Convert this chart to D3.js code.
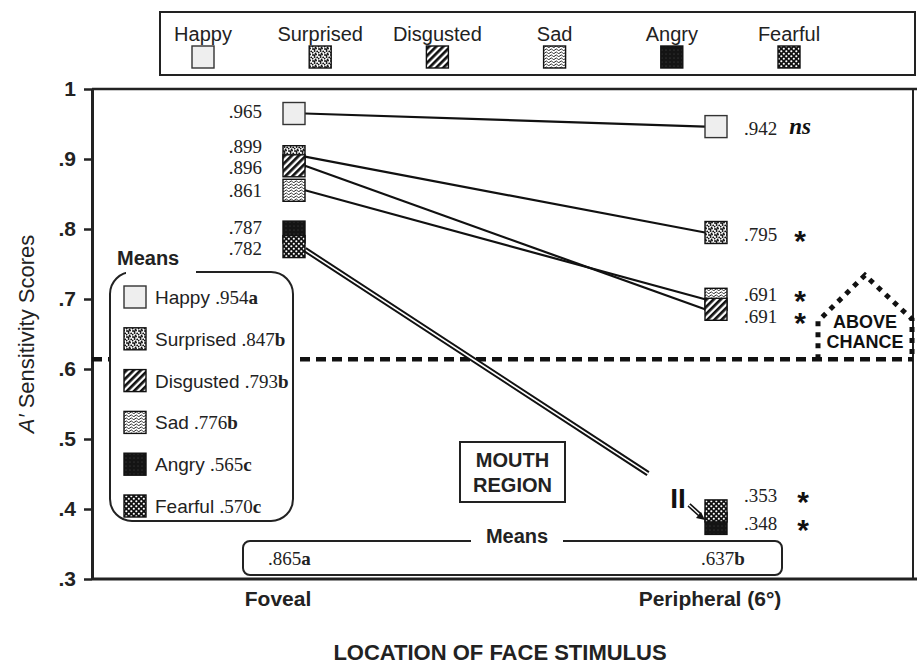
<!DOCTYPE html>
<html>
<head>
<meta charset="utf-8">
<script src="https://cdn.jsdelivr.net/npm/d3@7/dist/d3.min.js"></script>
<style>
  body { margin: 0; background: #fff; }
  svg { display: block; }
  .sans { font-family: "Liberation Sans", Arial, sans-serif; }
  .serif { font-family: "Liberation Serif", "Times New Roman", serif; }
</style>
</head>
<body>
<svg id="chart" width="919" height="664"></svg>
<script>
// data
const emotions = ["Happy", "Surprised", "Disgusted", "Sad", "Angry", "Fearful"];
const locations = ["Foveal", "Peripheral (6°)"];
const fovealScores = [0.965, 0.899, 0.896, 0.861, 0.787, 0.782];
const peripheralScores = [0.942, 0.795, 0.691, 0.691, 0.348, 0.353];
const significance = ["ns", "*", "*", "*", "*", "*"];
const emotionMeans = [0.954, 0.847, 0.793, 0.776, 0.565, 0.570];
const emotionGroups = ["a", "b", "b", "b", "c", "c"];
const locationMeans = [0.865, 0.637];
const locationGroups = ["a", "b"];
const yTicks = [1, 0.9, 0.8, 0.7, 0.6, 0.5, 0.4, 0.3];
const chanceLevel = 0.614;

const svg = d3.select("#chart");
const fmt = d => d3.format(".3f")(d).replace(/^0/, "");

// scales
const y = d3.scaleLinear().domain([0.3, 1]).range([579, 89]);
const x = d3.scalePoint().domain(locations).range([294, 716]);
const legendX = d3.scalePoint().domain(emotions).range([203, 789]);

const plotLeft = 92, plotRight = 913;
const box = 22; // marker size

// overlapping markers are stacked a little in the original, and the
// peripheral angry/fearful pair sits below an axis break
const markerNudge = {
  Foveal: { Surprised: -3, Disgusted: 4, Sad: 4, Angry: -6, Fearful: 5 },
  "Peripheral (6°)": { Happy: -3, Sad: -6, Disgusted: 4, Fearful: -31, Angry: -22 }
};
const labelNudge = {
  Foveal: { Happy: -3, Surprised: -14, Disgusted: 5, Sad: 4, Angry: -11, Fearful: 6 },
  "Peripheral (6°)": { Happy: -2, Surprised: 1, Sad: -11, Disgusted: 11, Fearful: -47, Angry: -22 }
};
const drawOrder = {
  Foveal: ["Happy", "Surprised", "Disgusted", "Sad", "Angry", "Fearful"],
  "Peripheral (6°)": ["Happy", "Surprised", "Sad", "Disgusted", "Angry", "Fearful"]
};

function score(loc, e) {
  const i = emotions.indexOf(e);
  return loc === locations[0] ? fovealScores[i] : peripheralScores[i];
}
function markerY(loc, e) {
  return y(score(loc, e)) + (markerNudge[loc][e] || 0);
}

// patterns
const defs = svg.append("defs");
function pattern(id, w, h, transform) {
  const p = defs.append("pattern")
    .attr("id", id)
    .attr("patternUnits", "userSpaceOnUse")
    .attr("width", w)
    .attr("height", h);
  if (transform) p.attr("patternTransform", transform);
  return p;
}
let p = pattern("p-surprised", 6, 6);
p.append("rect").attr("width", 6).attr("height", 6).attr("fill", "#fff");
[[1, 1], [4, 0.6], [2.6, 3], [5.2, 3.4], [0.6, 4.6], [3.6, 5.4], [2.4, 1.2]].forEach(c =>
  p.append("circle").attr("cx", c[0]).attr("cy", c[1]).attr("r", 0.95).attr("fill", "#111"));
p = pattern("p-disgusted", 5, 5, "rotate(45)");
p.append("rect").attr("width", 5).attr("height", 5).attr("fill", "#fff");
p.append("rect").attr("width", 2.7).attr("height", 5).attr("fill", "#111");
p = pattern("p-sad", 5, 3);
p.append("rect").attr("width", 5).attr("height", 3).attr("fill", "#fff");
p.append("path").attr("d", "M0,1.8 Q1.25,0 2.5,1.8 T5,1.8").attr("fill", "none")
  .attr("stroke", "#111").attr("stroke-width", 0.9);
p = pattern("p-angry", 4, 4);
p.append("rect").attr("width", 4).attr("height", 4).attr("fill", "#141414");
p.append("circle").attr("cx", 2).attr("cy", 2).attr("r", 0.45).attr("fill", "#777");
p = pattern("p-fearful", 5, 5);
p.append("rect").attr("width", 5).attr("height", 5).attr("fill", "#111");
p.append("rect").attr("x", 0.3).attr("y", 0.3).attr("width", 2).attr("height", 2).attr("rx", 0.8).attr("fill", "#fff");
p.append("rect").attr("x", 2.8).attr("y", 2.8).attr("width", 2).attr("height", 2).attr("rx", 0.8).attr("fill", "#fff");

const fills = {
  Happy: "#eeeeee",
  Surprised: "url(#p-surprised)",
  Disgusted: "url(#p-disgusted)",
  Sad: "url(#p-sad)",
  Angry: "url(#p-angry)",
  Fearful: "url(#p-fearful)"
};
function swatch(g, e, cx, cy) {
  g.append("rect")
    .attr("x", cx - box / 2).attr("y", cy - box / 2)
    .attr("width", box).attr("height", box)
    .attr("fill", fills[e])
    .attr("stroke", e === "Happy" ? "#333" : "#111")
    .attr("stroke-width", 1.4);
}

// top legend
svg.append("rect").attr("x", 160).attr("y", 12).attr("width", 755).attr("height", 63)
  .attr("fill", "none").attr("stroke", "#222").attr("stroke-width", 2);
const topLegend = svg.append("g");
emotions.forEach(e => {
  topLegend.append("text").attr("class", "sans")
    .attr("x", legendX(e)).attr("y", 41)
    .attr("text-anchor", "middle").attr("font-size", 20).attr("fill", "#222")
    .text(e);
  swatch(topLegend, e, legendX(e), 57);
});

// frame and axes
svg.append("line").attr("x1", plotLeft).attr("x2", 917).attr("y1", y(1)).attr("y2", y(1))
  .attr("stroke", "#222").attr("stroke-width", 2.5);
svg.append("line").attr("x1", plotRight).attr("x2", plotRight).attr("y1", y(1)).attr("y2", y(0.3))
  .attr("stroke", "#222").attr("stroke-width", 2);

const yAxis = svg.append("g")
  .attr("transform", `translate(${plotLeft},0)`)
  .call(d3.axisLeft(y).tickValues(yTicks).tickSize(8).tickSizeOuter(0).tickPadding(8)
    .tickFormat(d => d === 1 ? "1" : d3.format(".1f")(d).replace(/^0/, "")));
yAxis.select(".domain").attr("stroke", "#222").attr("stroke-width", 3);
yAxis.selectAll(".tick line").attr("stroke", "#222").attr("stroke-width", 2.5);
yAxis.selectAll(".tick text").attr("class", "sans").attr("font-size", 21)
  .attr("font-weight", "bold").attr("fill", "#222");

svg.append("line").attr("x1", plotLeft).attr("x2", 917).attr("y1", y(0.3)).attr("y2", y(0.3))
  .attr("stroke", "#222").attr("stroke-width", 3);

svg.selectAll(".xlab").data(locations).join("text")
  .attr("class", "sans xlab")
  .attr("x", (d, i) => x(d) + (i === 0 ? -16 : -6)).attr("y", 606)
  .attr("text-anchor", "middle").attr("font-size", 21).attr("font-weight", "bold").attr("fill", "#222")
  .text(d => d);

svg.append("text").attr("class", "sans")
  .attr("x", 500).attr("y", 660).attr("text-anchor", "middle")
  .attr("font-size", 22).attr("font-weight", "bold").attr("fill", "#222")
  .text("LOCATION OF FACE STIMULUS");

const yTitle = svg.append("text").attr("class", "sans")
  .attr("transform", `translate(34,${(y(1) + y(0.3)) / 2}) rotate(-90)`)
  .attr("text-anchor", "middle").attr("font-size", 22).attr("fill", "#222");
yTitle.append("tspan").attr("font-style", "italic").text("A′");
yTitle.append("tspan").text(" Sensitivity Scores");

// chance line and "above chance" marker
const cy = y(chanceLevel);
svg.append("line").attr("x1", plotLeft).attr("x2", plotRight).attr("y1", cy).attr("y2", cy)
  .attr("stroke", "#111").attr("stroke-width", 4.5).attr("stroke-dasharray", "10,6");
svg.append("path")
  .attr("d", `M818,${cy} V${cy - 38} L865,${cy - 84} L${plotRight - 1},${cy - 40} V${cy}`)
  .attr("fill", "none").attr("stroke", "#111").attr("stroke-width", 5)
  .attr("stroke-dasharray", "5,6");
["ABOVE", "CHANCE"].forEach((t, i) => {
  svg.append("text").attr("class", "sans")
    .attr("x", 865).attr("y", cy - 31 + i * 20).attr("text-anchor", "middle")
    .attr("font-size", 18).attr("font-weight", "bold").attr("fill", "#111").text(t);
});

// mouth region note
svg.append("rect").attr("x", 460).attr("y", 442).attr("width", 105).attr("height", 60)
  .attr("fill", "#fff").attr("stroke", "#222").attr("stroke-width", 2);
["MOUTH", "REGION"].forEach((t, i) => {
  svg.append("text").attr("class", "sans")
    .attr("x", 512.5).attr("y", 467 + i * 25).attr("text-anchor", "middle")
    .attr("font-size", 20).attr("font-weight", "bold").attr("fill", "#222").text(t);
});

// connecting lines
const xF = x(locations[0]) + box / 2, xP = x(locations[1]) - box / 2;
const single = emotions.filter(e => e !== "Angry" && e !== "Fearful");
svg.selectAll(".conn").data(single).join("line")
  .attr("class", "conn")
  .attr("x1", xF).attr("y1", e => markerY(locations[0], e))
  .attr("x2", xP).attr("y2", e => markerY(locations[1], e))
  .attr("stroke", "#111").attr("stroke-width", 2.2);

// angry + fearful: double line broken before the peripheral markers
const start = [xF, markerY(locations[0], "Fearful") + 3];
const target = [xP, markerY(locations[1], "Fearful")];
const t = (xP - 57 - start[0]) / (target[0] - start[0]);
const end = [start[0] + t * (target[0] - start[0]), start[1] + t * (target[1] - start[1])];
[[5.5, "#111"], [1.6, "#fff"]].forEach(s => {
  svg.append("line").attr("x1", start[0]).attr("y1", start[1]).attr("x2", end[0]).attr("y2", end[1])
    .attr("stroke", s[1]).attr("stroke-width", s[0]);
});
const fy = markerY(locations[1], "Fearful") - box / 2;
svg.append("text").attr("class", "sans")
  .attr("x", xP - 27).attr("y", fy + 8).attr("text-anchor", "middle")
  .attr("font-size", 28).attr("font-weight", "bold").attr("fill", "#111").text("II");
[[4.5, "#111"], [1.3, "#fff"]].forEach(s => {
  svg.append("line").attr("x1", xP - 16).attr("y1", fy + 5).attr("x2", xP - 5).attr("y2", fy + 15)
    .attr("stroke", s[1]).attr("stroke-width", s[0]);
});
svg.append("path")
  .attr("d", `M${xP},${fy + 20} l-9,-2 l5,-6 z`)
  .attr("fill", "#111");

// markers
locations.forEach(loc => {
  const g = svg.append("g");
  drawOrder[loc].forEach(e => swatch(g, e, x(loc), markerY(loc, e)));
});

// value labels
const stars = svg.append("text").attr("class", "sans")
  .attr("text-anchor", "middle").attr("font-size", 30).attr("font-weight", "bold").attr("fill", "#111");
emotions.forEach((e, i) => {
  svg.append("text").attr("class", "serif")
    .attr("x", x(locations[0]) - 32).attr("y", y(fovealScores[i]) + labelNudge.Foveal[e] + 7)
    .attr("text-anchor", "end").attr("font-size", 19).attr("fill", "#222")
    .text(fmt(fovealScores[i]));
  const py = y(peripheralScores[i]) + labelNudge[locations[1]][e];
  svg.append("text").attr("class", "serif")
    .attr("x", x(locations[1]) + 28).attr("y", py + 7)
    .attr("text-anchor", "start").attr("font-size", 19).attr("fill", "#222")
    .text(fmt(peripheralScores[i]));
  if (significance[i] === "ns") {
    svg.append("text").attr("class", "serif")
      .attr("x", x(locations[1]) + 84).attr("y", py + 6).attr("text-anchor", "middle")
      .attr("font-size", 23).attr("font-weight", "bold").attr("font-style", "italic")
      .attr("fill", "#111").text("ns");
  } else {
    // all significance stars share one text element (they sit tightly stacked)
    stars.append("tspan")
      .attr("x", x(locations[1]) + 84 + (i >= 4 ? 3 : 0)).attr("y", py + 17)
      .text(significance[i]);
  }
});

// emotion means legend (left)
const mg = svg.append("g");
mg.append("rect").attr("x", 110).attr("y", 272).attr("width", 183).attr("height", 249)
  .attr("rx", 22).attr("fill", "#fff").attr("stroke", "#222").attr("stroke-width", 2);
mg.append("rect").attr("x", 126).attr("y", 266).attr("width", 70).attr("height", 10).attr("fill", "#fff");
mg.append("text").attr("class", "sans").attr("x", 117).attr("y", 265)
  .attr("font-size", 20).attr("font-weight", "bold").attr("fill", "#222").text("Means");
const rowY = d3.scalePoint().domain(emotions).range([297, 506]);
emotions.forEach((e, i) => {
  swatch(mg, e, 135, rowY(e));
  const tx = mg.append("text").attr("x", 155).attr("y", rowY(e) + 7)
    .attr("font-size", 19).attr("fill", "#222");
  tx.append("tspan").attr("class", "sans").text(e + " ");
  tx.append("tspan").attr("class", "serif").text(fmt(emotionMeans[i]));
  tx.append("tspan").attr("class", "serif").attr("font-weight", "bold").text(emotionGroups[i]);
});

// location means (bottom)
const lg = svg.append("g");
lg.append("rect").attr("x", 243).attr("y", 541).attr("width", 539).attr("height", 34)
  .attr("rx", 7).attr("fill", "#fff").attr("stroke", "#222").attr("stroke-width", 2);
lg.append("rect").attr("x", 471).attr("y", 536).attr("width", 92).attr("height", 10).attr("fill", "#fff");
lg.append("text").attr("class", "sans").attr("x", 517).attr("y", 543).attr("text-anchor", "middle")
  .attr("font-size", 20).attr("font-weight", "bold").attr("fill", "#222").text("Means");
locations.forEach((loc, i) => {
  const tx = lg.append("text").attr("class", "serif")
    .attr("x", x(loc) + (i === 0 ? -26 : -15)).attr("y", 565)
    .attr("font-size", 19).attr("fill", "#222");
  tx.append("tspan").text(fmt(locationMeans[i]));
  tx.append("tspan").attr("font-weight", "bold").text(locationGroups[i]);
});
</script>
</body>
</html>
